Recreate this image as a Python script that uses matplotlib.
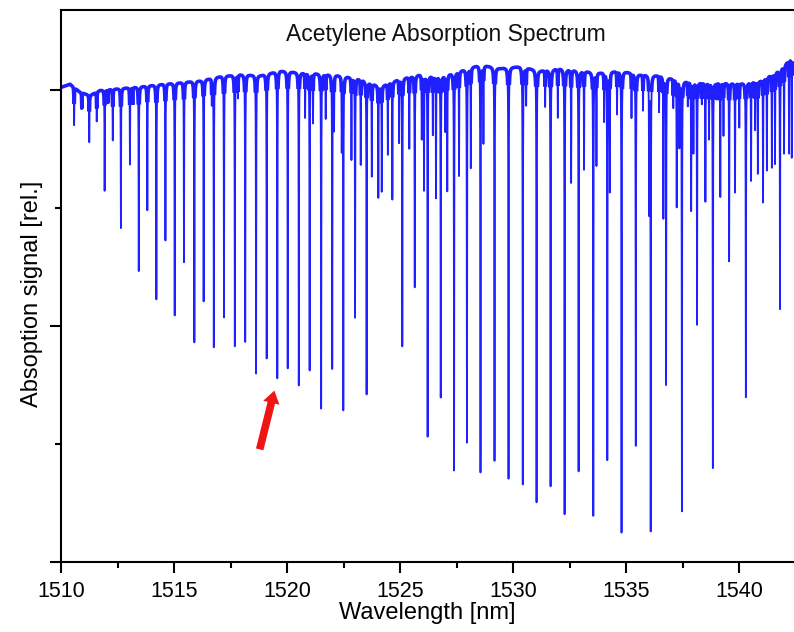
import numpy as np
import matplotlib.pyplot as plt

plt.rcParams['font.family'] = ['Liberation Sans', 'DejaVu Sans']

# strong absorption lines: centre wavelength [nm] and minimum signal [rel.]
line_nm = [1510.58, 1510.92, 1511.25, 1511.58, 1511.93, 1512.29, 1512.65, 1513.05,
           1513.44, 1513.82, 1514.22, 1514.62, 1515.03, 1515.44, 1515.90, 1516.31,
           1516.76, 1517.21, 1517.69, 1518.15, 1518.63, 1519.10, 1519.57, 1520.03,
           1520.52, 1521.00, 1521.51, 1522.00, 1522.49, 1523.01, 1523.52, 1525.10,
           1525.65, 1526.22, 1526.80, 1527.39, 1527.96, 1528.56, 1529.18, 1529.80,
           1530.43, 1531.04, 1531.66, 1532.28, 1532.90, 1533.55, 1534.17, 1534.80,
           1535.43, 1536.09, 1536.77, 1537.47, 1538.14, 1538.84, 1539.56, 1540.30,
           1541.06, 1541.81]
line_min = [0.926, 0.962, 0.890, 0.934, 0.787, 0.894, 0.708, 0.843,
            0.617, 0.746, 0.557, 0.682, 0.523, 0.636, 0.466, 0.553,
            0.456, 0.519, 0.458, 0.467, 0.400, 0.432, 0.390, 0.411,
            0.375, 0.407, 0.326, 0.411, 0.324, 0.519, 0.356, 0.458,
            0.583, 0.267, 0.350, 0.195, 0.254, 0.191, 0.215, 0.177,
            0.165, 0.127, 0.161, 0.102, 0.193, 0.099, 0.218, 0.063,
            0.247, 0.069, 0.377, 0.109, 0.504, 0.200, 0.638, 0.350,
            0.763, 0.537]

# weak (hot band) lines
weak_nm = [1512.08, 1513.17, 1516.67, 1517.83, 1520.80, 1521.15, 1521.71, 1522.08,
           1522.42, 1522.85, 1523.26, 1523.75, 1524.04, 1524.19, 1524.46, 1524.66,
           1524.96, 1525.41, 1525.96, 1526.06, 1526.45, 1526.59, 1527.00, 1527.09,
           1527.61, 1528.13, 1528.69, 1530.58, 1531.42, 1531.98, 1532.57, 1533.14,
           1533.69, 1534.03, 1534.28, 1534.60, 1535.24, 1535.75, 1536.02, 1536.46,
           1536.65, 1537.09, 1537.24, 1537.36, 1537.73, 1537.88, 1537.98, 1538.35,
           1538.51, 1538.67, 1539.01, 1539.17, 1539.31, 1539.82, 1540.01, 1540.53,
           1540.71, 1540.83, 1541.23, 1541.45, 1541.59, 1541.99, 1542.21, 1542.33]
weak_min = [0.975, 0.972, 0.972, 0.985, 0.943, 0.932, 0.941, 0.919,
            0.877, 0.854, 0.843, 0.818, 0.773, 0.786, 0.864, 0.769,
            0.890, 0.877, 0.898, 0.790, 0.907, 0.773, 0.915, 0.788,
            0.820, 0.837, 0.890, 0.970, 0.966, 0.943, 0.805, 0.833,
            0.843, 0.936, 0.788, 0.951, 0.943, 0.958, 0.746, 0.955,
            0.731, 0.964, 0.754, 0.883, 0.968, 0.746, 0.869, 0.972,
            0.765, 0.898, 0.985, 0.775, 0.905, 0.784, 0.922, 0.809,
            0.917, 0.824, 0.831, 0.837, 0.845, 0.867, 0.867, 0.858]

# baseline (no absorption) level
base_nm = [1510.00, 1510.40, 1510.84, 1511.28, 1511.73, 1512.61, 1513.50, 1514.38,
           1515.27, 1516.15, 1517.04, 1517.92, 1518.81, 1519.69, 1520.58, 1521.46,
           1522.35, 1523.23, 1524.12, 1525.00, 1525.88, 1526.77, 1527.65, 1528.54,
           1529.42, 1530.31, 1531.19, 1532.08, 1532.96, 1533.85, 1534.73, 1535.62,
           1536.50, 1537.39, 1538.27, 1539.16, 1540.04, 1540.93, 1541.59, 1542.04,
           1542.26, 1542.43]
base_val = [1.006, 1.013, 0.996, 0.989, 1.000, 1.004, 1.008, 1.013,
            1.017, 1.021, 1.030, 1.034, 1.032, 1.042, 1.038, 1.036,
            1.032, 1.025, 1.008, 1.025, 1.034, 1.030, 1.042, 1.055,
            1.047, 1.051, 1.042, 1.047, 1.042, 1.038, 1.042, 1.034,
            1.032, 1.021, 1.017, 1.017, 1.015, 1.021, 1.038, 1.055,
            1.070, 1.059]

# build the trace: baseline minus narrow lorentzian dips
wl = np.arange(1510.0, 1542.45, 0.002)
wl = np.sort(np.concatenate([wl, line_nm, weak_nm]))
base = np.interp(wl, base_nm, base_val)
signal = base.copy()
gamma = 0.008
for c, m in zip(line_nm + weak_nm, line_min + weak_min):
    depth = np.interp(c, base_nm, base_val) - m
    signal -= depth * gamma**2 / ((wl - c)**2 + gamma**2)

# upper part of trace drawn heavier (noisy baseline band)
top_part = np.where(signal > base - 0.035, signal, np.nan)

fig = plt.figure(figsize=(7.94, 6.32), dpi=100)
ax = fig.add_axes([61/794, 70/632, 733/794, 552/632])
ax.plot(wl, signal, color='#1f1fff', lw=1.3)
ax.plot(wl, top_part, color='#1f1fff', lw=2.6, solid_joinstyle='round')

ax.set_xlim(1510, 1542.43)
ax.set_ylim(0, 1.17)
ax.set_xticks(np.arange(1510, 1541, 5))
ax.set_xticks(np.arange(1512.5, 1542, 5), minor=True)
ax.set_yticks([0, 0.5, 1.0])
ax.set_yticks([0.25, 0.75], minor=True)
ax.set_yticklabels([])
ax.tick_params(which='major', direction='out', length=8, width=1.5, labelsize=15.5, pad=6)
ax.tick_params(which='minor', direction='out', length=4.5, width=1.5)
for s in ['left', 'bottom', 'top']:
    ax.spines[s].set_linewidth(1.5)
ax.spines['right'].set_visible(False)

ax.set_xlabel('Wavelength [nm]', fontsize=17)
ax.xaxis.set_label_coords(0.5, -0.072)
ax.set_ylabel('Absoption signal [rel.]', fontsize=17)
ax.yaxis.set_label_coords(-0.025, 0.485)

ax.text(0.525, 0.955, 'Acetylene Absorption Spectrum', transform=ax.transAxes,
        ha='center', va='center', fontsize=16.5, color='#111111')

# red arrow pointing at the marked line
ax.annotate('', xy=(1519.47, 0.369), xytext=(1518.76, 0.233),
            arrowprops=dict(arrowstyle='simple,head_width=1.2,head_length=0.9,tail_width=0.55',
                            color='#f01515', lw=0))

fig.savefig('out.png', dpi=100)
